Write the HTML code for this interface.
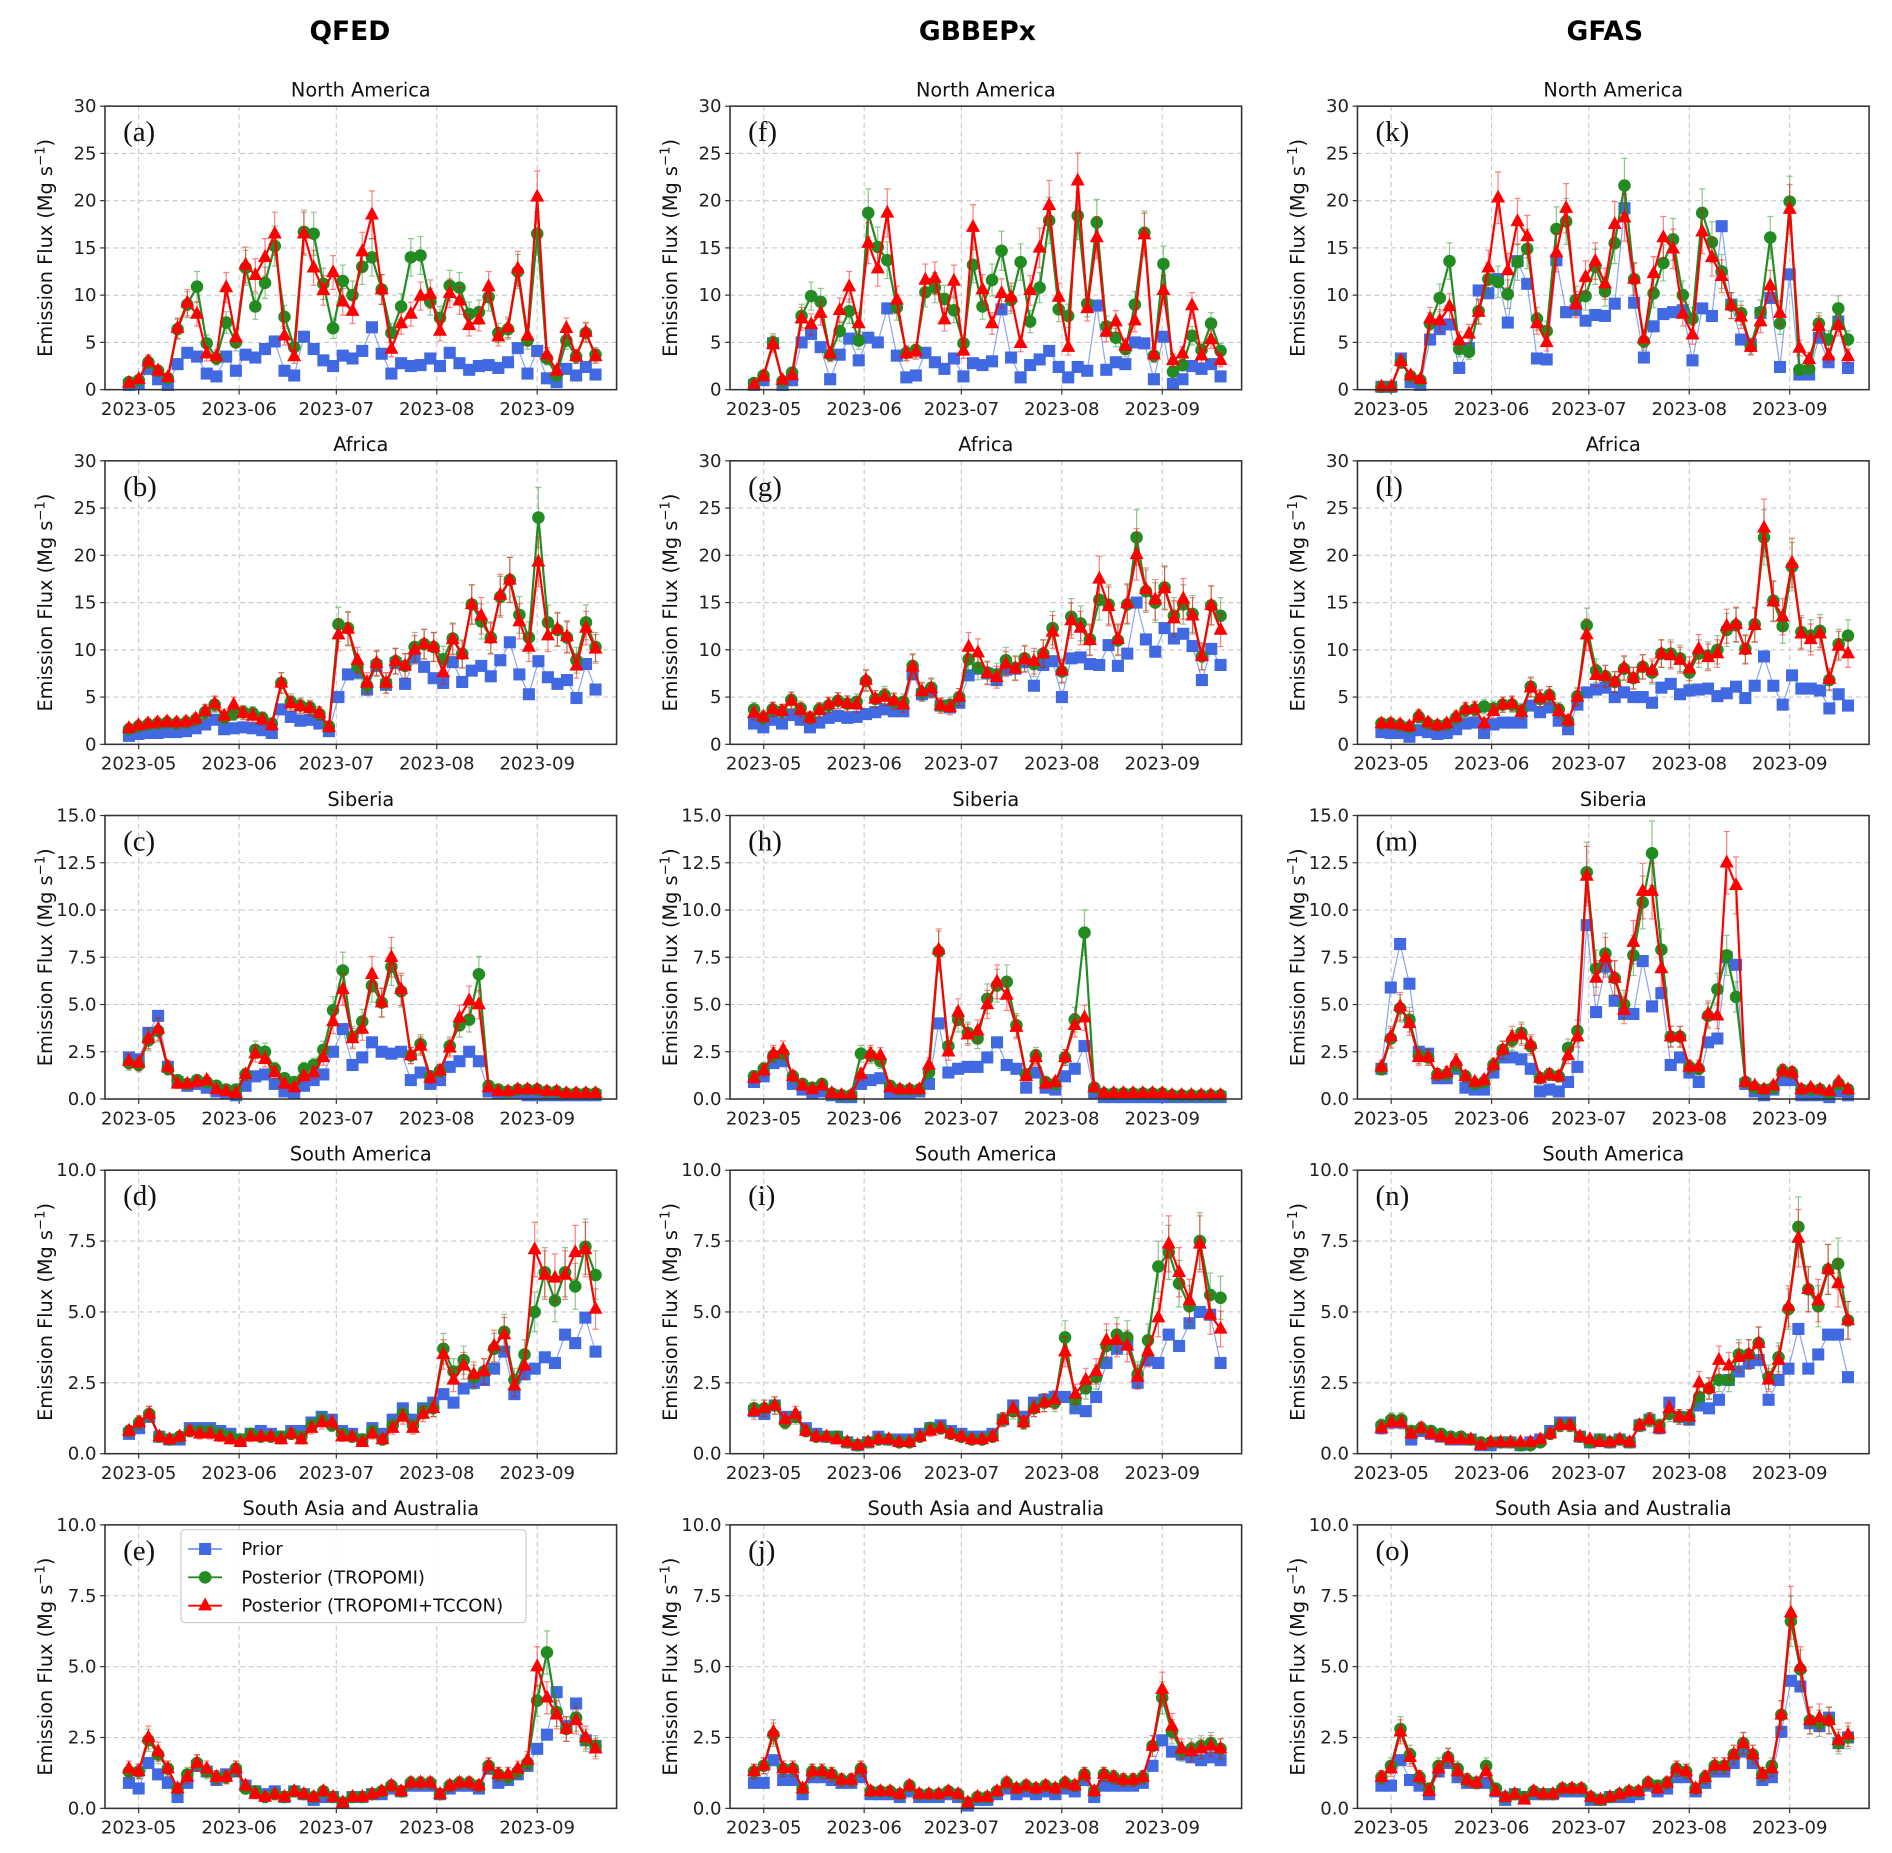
<!DOCTYPE html>
<html><head><meta charset="utf-8"><style>
html,body{margin:0;padding:0;background:#fff;}
svg{display:block;font-family:"DejaVu Sans","Liberation Sans",sans-serif;}
</style></head><body>
<svg id="chart" width="1892" height="1853" viewBox="0 0 1568 1536" preserveAspectRatio="none" xmlns="http://www.w3.org/2000/svg">
<text x="290" y="33" font-size="22" font-weight="bold" text-anchor="middle">QFED</text>
<text x="810" y="33" font-size="22" font-weight="bold" text-anchor="middle">GBBEPx</text>
<text x="1330" y="33" font-size="22" font-weight="bold" text-anchor="middle">GFAS</text>
</svg>
<script>
// ---- data (Mg s-1), points every ~3 days from 2023-04-28 ----
const monthLabels=["2023-05","2023-06","2023-07","2023-08","2023-09"];
const monthDays=[0,31,61,92,123];
const regions=["North America","Africa","Siberia","South America","South Asia and Australia"];
const letters=["a","b","c","d","e","f","g","h","i","j","k","l","m","n","o"];
const yMaxes=[30,30,15,10,10];
const yStepsArr=[5,5,2.5,2.5,2.5];

const priorA=[0.5,0.6,2.2,1.1,0.5,2.7,3.9,3.5,1.7,1.4,3.5,2.0,3.7,3.4,4.3,5.1,2.0,1.5,5.6,4.3,3.1,2.5,3.6,3.3,4.1,6.6,3.8,1.7,2.8,2.5,2.6,3.3,2.5,3.9,2.8,2.1,2.5,2.6,2.3,2.9,4.4,1.7,4.1,1.2,0.8,2.2,1.5,2.4,1.6];
const tropA=[0.8,1.0,2.9,2.0,1.2,6.4,9.0,10.9,4.9,3.3,7.1,5.0,12.9,8.8,11.3,15.2,7.7,4.5,16.7,16.5,11.2,6.5,11.5,10.0,13.0,14.0,10.6,6.0,8.8,14.0,14.2,9.3,7.6,11.0,10.8,8.0,8.2,9.8,6.0,6.4,12.5,5.2,16.5,3.3,1.5,5.2,3.5,6.0,3.7];
const tcconA=[0.7,1.1,3.0,2.0,1.3,6.5,9.2,8.0,3.8,3.5,10.8,5.5,13.2,12.1,14.0,16.5,5.7,3.5,16.5,12.9,10.5,12.4,9.3,8.3,14.6,18.5,10.6,4.3,7.0,8.0,9.9,10.1,6.2,10.2,9.4,6.8,7.4,10.9,5.6,6.6,12.8,5.7,20.4,3.7,2.0,6.5,3.5,6.1,3.5];

const priorB=[0.9,1.1,1.2,1.2,1.3,1.3,1.4,1.7,2.1,2.6,1.6,1.7,1.8,1.7,1.5,1.2,3.7,2.9,2.5,2.6,2.2,1.4,5.0,7.4,7.6,5.8,8.3,6.3,8.6,6.4,9.2,8.2,7.0,6.5,8.7,6.6,7.8,8.3,7.2,8.9,10.8,7.4,5.3,8.8,7.1,6.4,6.8,4.9,8.5,5.8];
const tropB=[1.6,1.9,2.1,2.2,2.3,2.2,2.3,2.6,3.4,4.2,2.8,3.2,3.4,3.3,2.8,2.2,6.5,4.5,4.1,3.9,3.2,1.9,12.7,12.3,8.2,6.2,8.5,6.5,8.8,8.3,10.3,10.6,10.3,9.0,11.2,9.6,14.8,13.0,11.3,15.6,17.4,13.7,11.3,24.0,12.9,12.1,11.3,8.9,12.9,10.3];
const tcconB=[1.7,2.0,2.2,2.3,2.4,2.3,2.4,2.7,3.5,4.3,3.0,4.2,3.3,3.0,2.6,2.0,6.5,4.3,4.0,3.8,3.3,1.8,11.6,12.2,8.9,6.5,8.6,6.5,8.8,8.3,10.0,10.6,10.3,7.6,11.1,9.5,14.8,13.6,11.2,15.8,17.4,13.0,10.3,19.3,11.5,12.2,11.4,8.3,12.3,10.1];

const priorC=[2.2,2.1,3.5,4.4,1.7,0.9,0.7,0.8,0.6,0.4,0.3,0.2,0.7,1.2,1.3,0.8,0.4,0.3,0.7,1.0,1.3,2.5,3.7,1.8,2.2,3.0,2.5,2.4,2.5,1.0,1.4,0.8,1.0,1.7,2.0,2.5,2.0,0.4,0.3,0.3,0.3,0.2,0.2,0.2,0.2,0.2,0.2,0.2,0.2];
const tropC=[1.9,1.8,3.1,3.6,1.6,1.0,0.8,1.0,0.9,0.7,0.5,0.5,1.3,2.6,2.5,1.6,1.1,0.9,1.6,1.8,2.6,4.7,6.8,3.3,4.1,6.0,5.1,7.0,5.7,2.3,2.9,1.2,1.5,2.8,3.9,4.2,6.6,0.7,0.5,0.4,0.5,0.5,0.5,0.4,0.4,0.3,0.3,0.3,0.3];
const tcconC=[2.0,1.9,3.2,3.7,1.7,0.8,0.8,0.9,1.0,0.5,0.4,0.3,1.3,2.4,2.1,1.4,0.8,0.6,1.2,1.4,2.2,4.1,5.8,3.2,3.7,6.6,5.1,7.5,5.8,2.3,2.8,1.1,1.5,2.7,4.3,5.2,5.0,0.6,0.4,0.4,0.5,0.5,0.5,0.4,0.4,0.3,0.3,0.3,0.3];

const priorD=[0.7,0.9,1.3,0.6,0.5,0.5,0.9,0.9,0.9,0.8,0.7,0.5,0.7,0.8,0.7,0.6,0.8,0.8,1.1,1.3,1.2,0.8,0.7,0.5,0.9,0.7,1.2,1.6,1.2,1.6,1.8,2.1,1.8,2.3,2.5,2.6,3.0,3.6,2.1,2.8,3.0,3.4,3.2,4.2,3.9,4.8,3.6];
const tropD=[0.8,1.1,1.4,0.6,0.5,0.6,0.8,0.8,0.8,0.7,0.6,0.5,0.7,0.6,0.6,0.6,0.7,0.6,1.0,1.2,1.0,0.7,0.6,0.5,0.8,0.5,1.0,1.4,1.0,1.5,1.6,3.7,2.9,3.3,2.7,2.9,3.7,4.3,2.6,3.5,5.0,6.4,5.4,6.4,5.9,7.3,6.3];
const tcconD=[0.8,1.1,1.4,0.6,0.5,0.6,0.8,0.7,0.7,0.6,0.5,0.4,0.6,0.6,0.6,0.5,0.7,0.5,0.9,1.1,1.1,0.6,0.6,0.4,0.7,0.5,0.9,1.3,0.9,1.4,1.6,3.5,2.6,3.1,2.8,2.9,3.8,4.2,2.4,3.1,7.2,6.3,6.2,6.3,7.1,7.2,5.1];

const priorE=[0.9,0.7,1.6,1.2,0.9,0.4,0.9,1.5,1.3,1.0,1.2,1.3,0.8,0.6,0.5,0.6,0.4,0.6,0.5,0.3,0.4,0.4,0.2,0.4,0.4,0.5,0.5,0.7,0.6,0.8,0.8,0.8,0.5,0.7,0.8,0.8,0.7,1.4,0.9,1.0,1.2,1.5,2.1,2.6,4.1,2.9,3.7,2.4,2.2];
const tropE=[1.3,1.3,2.4,1.9,1.4,0.7,1.2,1.6,1.3,1.1,1.1,1.4,0.7,0.6,0.4,0.5,0.4,0.6,0.5,0.4,0.6,0.4,0.2,0.4,0.4,0.5,0.6,0.8,0.6,0.9,0.9,0.9,0.5,0.8,0.9,0.9,0.8,1.5,1.2,1.1,1.3,1.6,3.8,5.5,3.4,2.8,3.2,2.4,2.2];
const tcconE=[1.4,1.3,2.5,2.0,1.4,0.7,1.1,1.6,1.4,1.1,1.1,1.4,0.8,0.5,0.4,0.5,0.4,0.6,0.5,0.4,0.6,0.4,0.2,0.4,0.4,0.5,0.6,0.8,0.6,0.9,0.9,0.9,0.5,0.8,0.9,0.9,0.8,1.5,1.2,1.2,1.4,1.7,5.0,3.9,3.3,2.8,3.1,2.5,2.1];

const priorF=[0.5,1.0,4.9,0.5,1.0,5.0,5.9,4.5,1.1,3.7,5.4,3.1,5.5,5.0,8.6,3.6,1.3,1.5,3.9,2.9,2.2,3.3,1.4,2.8,2.6,3.0,8.5,3.4,1.3,2.6,3.2,4.1,2.4,1.3,2.4,2.0,8.9,2.1,2.9,2.7,5.0,4.9,1.1,5.6,0.6,1.1,2.5,2.2,2.7,1.4];
const tropF=[0.7,1.5,5.0,0.9,1.8,7.8,9.9,9.3,3.7,6.2,8.3,5.2,18.7,15.1,13.7,8.7,3.9,4.2,10.3,10.8,9.6,8.4,4.9,13.2,8.8,11.6,14.7,9.5,13.5,7.2,10.8,17.9,8.5,7.8,18.4,9.1,17.7,6.7,5.5,4.3,9.0,16.6,3.6,13.3,1.9,2.6,5.7,4.2,7.0,4.1];
const tcconF=[0.5,1.4,4.8,1.0,1.5,7.5,6.9,8.1,3.8,8.4,10.9,7.0,15.5,12.8,18.7,9.5,3.8,4.0,11.6,11.8,7.4,11.5,4.1,17.2,10.6,7.0,10.2,9.8,4.9,10.5,15.0,19.5,9.8,4.5,22.1,8.6,16.1,6.1,7.2,4.6,7.3,16.4,3.7,10.5,3.1,3.8,8.9,3.6,5.3,3.1];

const priorG=[2.2,1.8,2.6,2.2,3.1,2.6,1.8,2.3,2.8,3.0,2.8,2.9,3.2,3.4,3.7,3.5,3.5,7.4,5.3,5.6,4.1,3.9,4.4,7.3,8.0,7.5,6.8,7.9,8.0,8.7,6.2,8.4,8.8,5.0,9.1,9.2,8.5,8.4,10.5,8.3,9.6,15.0,11.1,9.8,12.3,11.2,11.7,10.4,6.8,10.1,8.4];
const tropG=[3.7,2.8,3.7,3.5,4.7,3.8,2.8,3.7,4.1,4.6,4.3,4.5,6.7,4.8,5.2,4.5,4.5,8.3,5.5,6.0,4.1,4.2,5.0,9.0,8.1,7.6,7.4,8.9,8.1,9.1,8.5,9.6,12.3,7.7,13.5,12.8,11.1,15.3,14.8,11.0,14.8,21.9,16.2,15.0,16.6,13.6,14.8,13.8,9.3,14.7,13.6];
const tcconG=[3.3,2.9,3.7,3.5,4.6,3.6,2.8,3.6,4.2,4.6,4.3,4.2,6.8,4.8,5.0,4.6,4.2,8.2,5.6,5.9,4.1,3.9,5.0,10.3,9.7,7.5,7.1,8.5,8.0,9.0,8.8,9.6,11.9,7.8,13.1,12.3,11.0,17.5,14.6,11.1,14.9,20.1,16.4,15.3,16.5,13.3,15.4,13.6,9.3,14.7,12.1];

const priorH=[0.9,1.2,1.9,2.0,0.8,0.5,0.3,0.4,0.2,0.1,0.1,0.8,1.0,1.1,0.3,0.3,0.3,0.4,0.8,4.0,1.4,1.6,1.7,1.7,2.2,3.0,1.8,1.6,0.6,1.4,0.6,0.5,1.2,1.6,2.8,0.3,0.1,0.1,0.1,0.1,0.1,0.1,0.1,0.1,0.1,0.1,0.1,0.1,0.1];
const tropH=[1.2,1.6,2.3,2.4,1.2,0.8,0.6,0.8,0.3,0.2,0.2,2.4,2.3,2.0,0.7,0.5,0.5,0.5,1.4,7.8,2.8,4.2,3.5,3.2,5.3,6.0,6.2,3.9,1.3,2.3,0.9,0.8,2.2,4.2,8.8,0.6,0.3,0.3,0.3,0.3,0.3,0.3,0.3,0.2,0.2,0.2,0.2,0.2,0.2];
const tcconH=[1.1,1.5,2.4,2.6,1.2,0.7,0.5,0.7,0.3,0.2,0.2,1.3,2.4,2.3,0.6,0.5,0.5,0.5,1.8,7.9,2.5,4.6,3.4,3.6,5.0,6.2,5.5,3.8,1.2,2.2,0.8,0.9,2.2,3.9,4.3,0.6,0.3,0.3,0.3,0.3,0.3,0.3,0.3,0.2,0.2,0.2,0.2,0.2,0.2];

const priorI=[1.5,1.4,1.7,1.3,1.3,0.9,0.7,0.6,0.6,0.4,0.3,0.4,0.6,0.5,0.5,0.5,0.7,0.9,1.0,0.8,0.7,0.6,0.6,0.7,1.2,1.7,1.3,1.8,1.9,2.0,2.0,1.6,1.5,2.0,3.2,3.7,3.9,2.5,3.3,3.2,4.2,3.8,4.6,5.0,4.9,3.2];
const tropI=[1.6,1.6,1.7,1.1,1.3,0.8,0.6,0.6,0.6,0.4,0.3,0.4,0.5,0.5,0.4,0.4,0.6,0.9,0.9,0.7,0.6,0.5,0.5,0.6,1.2,1.5,1.1,1.6,1.8,1.8,4.1,1.9,2.3,2.7,3.8,4.2,4.1,2.8,4.0,6.6,7.1,6.0,5.2,7.5,5.6,5.5];
const tcconI=[1.5,1.6,1.7,1.2,1.4,0.8,0.6,0.6,0.5,0.4,0.3,0.4,0.5,0.5,0.4,0.4,0.6,0.8,0.9,0.7,0.6,0.5,0.5,0.6,1.2,1.6,1.1,1.6,1.8,1.9,3.6,2.1,2.6,2.9,4.0,4.0,3.8,2.7,3.6,4.8,7.4,6.4,5.4,7.4,4.9,4.4];

const priorJ=[0.9,0.9,1.7,1.0,1.0,0.5,1.1,1.1,1.0,0.9,0.9,1.1,0.5,0.5,0.5,0.4,0.6,0.4,0.4,0.4,0.5,0.4,0.1,0.3,0.3,0.5,0.7,0.5,0.6,0.5,0.6,0.5,0.7,0.6,1.0,0.4,0.8,0.8,0.8,0.8,0.9,1.5,2.4,2.0,1.9,1.8,1.7,1.8,1.7];
const tropJ=[1.3,1.5,2.6,1.4,1.4,0.7,1.3,1.3,1.2,1.0,1.0,1.4,0.6,0.6,0.6,0.5,0.8,0.5,0.5,0.5,0.6,0.5,0.2,0.4,0.4,0.6,0.9,0.7,0.8,0.7,0.8,0.7,0.9,0.8,1.2,0.6,1.2,1.1,1.0,1.0,1.1,2.2,3.9,2.7,2.0,2.1,2.2,2.3,2.1];
const tcconJ=[1.3,1.5,2.7,1.4,1.4,0.7,1.3,1.3,1.2,1.0,1.0,1.4,0.6,0.6,0.6,0.5,0.8,0.5,0.5,0.5,0.6,0.5,0.2,0.4,0.4,0.6,0.9,0.7,0.8,0.7,0.8,0.7,0.9,0.8,1.2,0.6,1.2,1.1,1.0,1.0,1.1,2.2,4.2,2.9,2.1,2.0,2.1,2.2,2.1];

const priorK=[0.3,0.3,3.3,0.8,0.5,5.3,6.4,6.9,2.3,4.4,10.5,10.2,11.7,7.1,13.6,11.2,3.3,3.2,13.7,8.2,8.4,7.3,7.9,7.8,9.1,19.2,9.2,3.4,6.7,8.0,8.2,8.4,3.1,8.6,7.8,17.3,9.0,5.3,4.8,8.1,9.7,2.4,12.2,1.6,1.6,5.5,2.9,7.2,2.3];
const tropK=[0.3,0.3,2.9,1.4,1.0,7.0,9.7,13.6,4.3,4.0,8.3,11.7,11.4,10.1,13.5,14.9,7.5,6.2,17.0,17.8,9.5,9.9,13.0,10.4,15.5,21.6,11.7,5.1,10.2,13.4,15.9,10.0,7.5,18.7,15.6,12.5,8.9,8.1,4.6,8.2,16.1,7.0,19.9,2.1,2.2,7.0,5.3,8.6,5.3];
const tcconK=[0.3,0.3,3.0,1.5,1.1,7.5,7.3,8.8,5.2,5.9,8.2,12.9,20.3,12.6,17.8,16.2,7.0,5.0,14.5,19.2,9.0,11.9,13.6,11.2,17.5,18.2,11.7,5.4,12.3,16.1,14.9,8.0,5.8,16.7,14.0,12.0,8.9,7.7,4.5,7.2,11.0,8.1,19.1,4.4,3.2,6.7,3.6,6.8,3.5];

const priorL=[1.3,1.2,1.2,0.8,1.5,1.3,1.1,1.2,1.6,2.2,2.3,1.2,2.1,2.3,2.3,2.3,4.1,3.4,3.9,2.5,1.6,4.2,5.5,5.8,6.0,5.0,5.5,5.0,5.0,4.4,6.0,6.4,5.3,5.7,5.8,5.9,5.1,5.4,6.1,4.9,6.2,9.3,6.2,4.2,7.3,5.9,5.9,5.7,3.8,5.3,4.1];
const tropL=[2.2,2.2,2.0,1.8,2.9,2.2,2.0,2.1,2.8,3.6,3.7,4.0,3.8,4.2,4.2,3.6,6.1,4.8,5.2,3.7,2.5,5.1,12.6,7.8,7.2,6.6,8.0,7.0,8.2,7.6,9.6,9.6,9.1,7.6,9.6,9.4,10.0,12.1,12.6,10.1,12.7,21.9,15.2,12.5,18.8,11.9,11.5,12.0,6.8,10.6,11.5];
const tcconL=[2.2,2.2,2.1,1.9,3.0,2.3,2.0,2.2,2.9,3.7,3.8,2.2,3.5,4.2,4.3,3.4,6.0,4.9,5.2,3.5,2.5,5.0,11.6,7.3,7.2,6.6,8.1,7.0,8.2,7.8,9.6,9.4,8.9,8.0,10.1,9.2,9.6,12.5,12.7,10.0,12.6,22.9,15.1,13.5,19.2,11.7,11.1,11.7,6.9,10.4,9.6];

const priorM=[1.6,5.9,8.2,6.1,2.5,2.4,1.1,1.1,1.6,0.6,0.5,0.5,1.4,2.2,2.2,2.1,1.6,0.4,0.5,0.4,0.9,1.7,9.2,4.6,7.0,5.2,4.5,4.5,7.3,4.9,5.6,1.8,2.2,1.4,0.9,3.0,3.2,7.5,7.1,0.8,0.4,0.2,0.5,1.0,1.0,0.2,0.2,0.2,0.1,0.4,0.2];
const tropM=[1.6,3.2,4.8,4.2,2.3,2.2,1.3,1.3,1.8,1.2,0.8,0.9,1.8,2.6,3.1,3.5,2.8,1.1,1.3,1.2,2.7,3.6,12.0,6.9,7.7,6.4,5.0,7.6,10.4,13.0,7.9,3.3,3.3,1.7,1.6,4.4,5.8,7.6,5.4,0.9,0.6,0.5,0.6,1.5,1.4,0.5,0.5,0.5,0.3,0.8,0.5];
const tcconM=[1.7,3.3,4.9,4.0,2.2,2.2,1.3,1.4,2.0,1.2,0.9,1.0,1.8,2.6,3.3,3.4,2.9,1.1,1.3,1.2,2.3,3.3,11.8,6.4,7.5,6.4,4.7,8.3,11.0,11.0,6.9,3.3,3.3,1.7,1.7,4.5,4.4,12.5,11.3,0.9,0.7,0.5,0.7,1.5,1.4,0.5,0.6,0.5,0.4,0.9,0.5];

const priorN=[0.9,1.1,1.1,0.5,0.8,0.7,0.6,0.5,0.5,0.5,0.3,0.3,0.4,0.4,0.3,0.4,0.5,0.8,1.1,1.1,0.6,0.4,0.5,0.4,0.5,0.4,1.0,1.2,0.9,1.8,1.3,1.2,1.7,1.6,1.9,2.6,2.9,3.2,3.3,1.9,2.6,3.0,4.4,3.0,3.5,4.2,4.2,2.7];
const tropN=[1.0,1.2,1.2,0.8,0.9,0.8,0.7,0.6,0.6,0.5,0.4,0.4,0.4,0.4,0.3,0.3,0.4,0.7,1.0,1.0,0.6,0.4,0.5,0.4,0.5,0.4,1.0,1.2,1.0,1.4,1.3,1.3,2.0,2.3,2.6,2.6,3.5,3.5,3.9,2.7,3.4,5.1,8.0,5.8,5.2,6.5,6.7,4.7];
const tcconN=[0.9,1.1,1.1,0.7,0.9,0.7,0.6,0.5,0.5,0.5,0.3,0.4,0.4,0.4,0.4,0.4,0.5,0.7,1.0,1.0,0.6,0.5,0.4,0.4,0.5,0.4,1.0,1.2,0.9,1.6,1.3,1.3,2.5,2.3,3.3,3.1,3.4,3.5,3.9,2.6,3.3,5.2,7.6,5.8,5.4,6.5,6.0,4.7];

const priorO=[0.8,0.8,1.7,1.0,0.8,0.5,1.3,1.6,1.1,0.9,0.9,0.9,0.6,0.3,0.5,0.4,0.5,0.5,0.5,0.6,0.6,0.6,0.3,0.3,0.4,0.4,0.4,0.5,0.8,0.6,0.7,1.1,1.1,0.6,0.9,1.3,1.3,1.6,2.0,1.6,1.0,1.1,2.7,4.5,4.3,3.0,2.9,3.2,2.3,2.5];
const tropO=[1.1,1.5,2.8,1.9,1.1,0.7,1.5,1.8,1.4,1.0,0.9,1.5,0.7,0.4,0.5,0.4,0.6,0.5,0.5,0.7,0.7,0.7,0.4,0.3,0.4,0.5,0.6,0.6,0.9,0.8,0.9,1.4,1.3,0.7,1.1,1.5,1.5,1.9,2.3,1.9,1.2,1.5,3.3,6.6,4.9,3.1,3.0,3.1,2.3,2.5];
const tcconO=[1.1,1.4,2.7,1.8,1.1,0.6,1.4,1.8,1.3,1.0,0.9,1.3,0.6,0.4,0.5,0.3,0.6,0.5,0.5,0.7,0.7,0.7,0.4,0.3,0.4,0.5,0.6,0.6,0.9,0.7,0.9,1.4,1.3,0.7,1.1,1.5,1.5,1.9,2.3,1.9,1.2,1.4,3.3,6.9,5.0,3.1,3.2,3.1,2.4,2.6];

const priors=[priorA,priorB,priorC,priorD,priorE,priorF,priorG,priorH,priorI,priorJ,priorK,priorL,priorM,priorN,priorO];
const trops=[tropA,tropB,tropC,tropD,tropE,tropF,tropG,tropH,tropI,tropJ,tropK,tropL,tropM,tropN,tropO];
const tccons=[tcconA,tcconB,tcconC,tcconD,tcconE,tcconF,tcconG,tcconH,tcconI,tcconJ,tcconK,tcconL,tcconM,tcconN,tcconO];

// ---- layout ----
const NS="http://www.w3.org/2000/svg";
const svg=document.getElementById('chart');
const colLeft=[87,605,1125], panelW=424, rowTop=[88,382,676,970,1264], panelH=235;
const dayMin=-10.4, dayMax=147.5, firstDay=-3, lastDay=141;
function mk(tag,attrs,parent){const e=document.createElementNS(NS,tag);for(const k in attrs)e.setAttribute(k,attrs[k]);(parent||svg).appendChild(e);return e;}
const C_PRIOR="#4169E1", C_TROP="#228B22", C_TCCON="#FF0000";

function drawPanel(p){
  const col=Math.floor(p/5), row=p%5;
  const x0=colLeft[col], y0=rowTop[row], ymax=yMaxes[row], step=yStepsArr[row];
  const g=mk('g',{});
  
  
  const xs=d=>x0+(d-dayMin)/(dayMax-dayMin)*panelW;
  const ys=v=>y0+panelH-(v/ymax)*panelH;
  for(let v=0;v<=ymax+1e-9;v+=step){
    const y=ys(v);
    if(v>0&&v<ymax){const gl=mk('line',{x1:x0,x2:x0+panelW,y1:y,y2:y,stroke:'#c8c8c8','stroke-width':0.9,'stroke-dasharray':'4,3'},g);
      }
    mk('line',{x1:x0-4,x2:x0,y1:y,y2:y,stroke:'#333','stroke-width':1},g);
    const t=mk('text',{x:x0-7,y:y+5,'font-size':15,'text-anchor':'end',fill:'#222'},g);
    t.textContent=(step===5?String(v):v.toFixed(1));
    
  }
  monthDays.forEach((d,k)=>{
    const x=xs(d);
    const gl=mk('line',{x1:x,x2:x,y1:y0,y2:y0+panelH,stroke:'#c8c8c8','stroke-width':0.9,'stroke-dasharray':'4,3'},g);
    
    mk('line',{x1:x,x2:x,y1:y0+panelH,y2:y0+panelH+4,stroke:'#333','stroke-width':1},g);
    const t=mk('text',{x:x,y:y0+panelH+21,'font-size':15,'text-anchor':'middle',fill:'#222'},g);
    t.textContent=monthLabels[k];
    
  });
  const series=[[priors[p],C_PRIOR,'prior'],[trops[p],C_TROP,'posterior-tropomi'],[tccons[p],C_TCCON,'posterior-tropomi-tccon']];
  series.forEach(([vals,color,nm],si)=>{
    const n=vals.length;
    const dayOf=i=>firstDay+(lastDay-firstDay)*i/(n-1);
    const pts=vals.map((v,i)=>[xs(dayOf(i)),ys(v)]);
    if(si>0){
      vals.forEach((v,i)=>{
        const e=0.12*v+0.1*ymax/30*3;
        const x=pts[i][0];
        const eb=mk('path',{d:`M${x},${ys(v+e)}V${ys(Math.max(0,v-e))}M${x-2.5},${ys(v+e)}h5M${x-2.5},${ys(Math.max(0,v-e))}h5`,stroke:color,'stroke-width':1,'stroke-opacity':0.5,fill:'none'},g);
        
      });
    }
    const ln=mk('polyline',{points:pts.map(q=>q.join(',')).join(' '),fill:'none',stroke:color,'stroke-width':si===0?1:1.8,'stroke-opacity':si===0?0.6:1},g);
    
    pts.forEach(([x,y])=>{
      let m;
      if(si===0) m=mk('rect',{x:x-5,y:y-5,width:10,height:10,fill:color},g);
      else if(si===1) m=mk('circle',{cx:x,cy:y,r:5.2,fill:color},g);
      else m=mk('path',{d:`M${x},${y-6.8}L${x+5.8},${y+3.9}L${x-5.8},${y+3.9}Z`,fill:color},g);
      
      
    });
  });
  const fr=mk('rect',{x:x0,y:y0,width:panelW,height:panelH,fill:'none',stroke:'#333','stroke-width':1.3},g);
  
  const ti=mk('text',{x:x0+panelW/2,y:y0-8,'font-size':16,'text-anchor':'middle',fill:'#111'},g);
  ti.textContent=regions[row];
  
  const lt=mk('text',{x:x0+15,y:y0+29,'font-size':24,'font-family':'"Liberation Serif",serif',fill:'#111'},g);
  lt.textContent='('+letters[p]+')';
  
  const yl=mk('text',{x:0,y:0,'font-size':16,'text-anchor':'middle',fill:'#111',transform:`translate(${x0-44},${y0+panelH/2}) rotate(-90)`},g);
  yl.innerHTML='Emission Flux (Mg s<tspan dy="-6" font-size="11">−1</tspan><tspan dy="6">)</tspan>';
  
}
for(let p=0;p<15;p++) drawPanel(p);

const lg=mk('g',{});


mk('rect',{x:150,y:1268,width:286,height:77,rx:3,fill:'#fff','fill-opacity':0.9,stroke:'#ccc','stroke-width':1},lg);
const legItems=[['Prior',C_PRIOR,0],['Posterior (TROPOMI)',C_TROP,1],['Posterior (TROPOMI+TCCON)',C_TCCON,2]];
legItems.forEach(([txt,color,k])=>{
  const y=1284+k*23.5;
  const le=mk('g',{},lg);
  
  
  mk('line',{x1:156,x2:184,y1:y,y2:y,stroke:color,'stroke-width':k===0?1:1.6},le);
  if(k===0) mk('rect',{x:165,y:y-5,width:10,height:10,fill:color},le);
  else if(k===1) mk('circle',{cx:170,cy:y,r:5.2,fill:color},le);
  else mk('path',{d:`M170,${y-6.8}L175.8,${y+3.9}L164.2,${y+3.9}Z`,fill:color},le);
  const t=mk('text',{x:200,y:y+5,'font-size':15,fill:'#111'},le);
  t.textContent=txt;
});
</script>
</body></html>
